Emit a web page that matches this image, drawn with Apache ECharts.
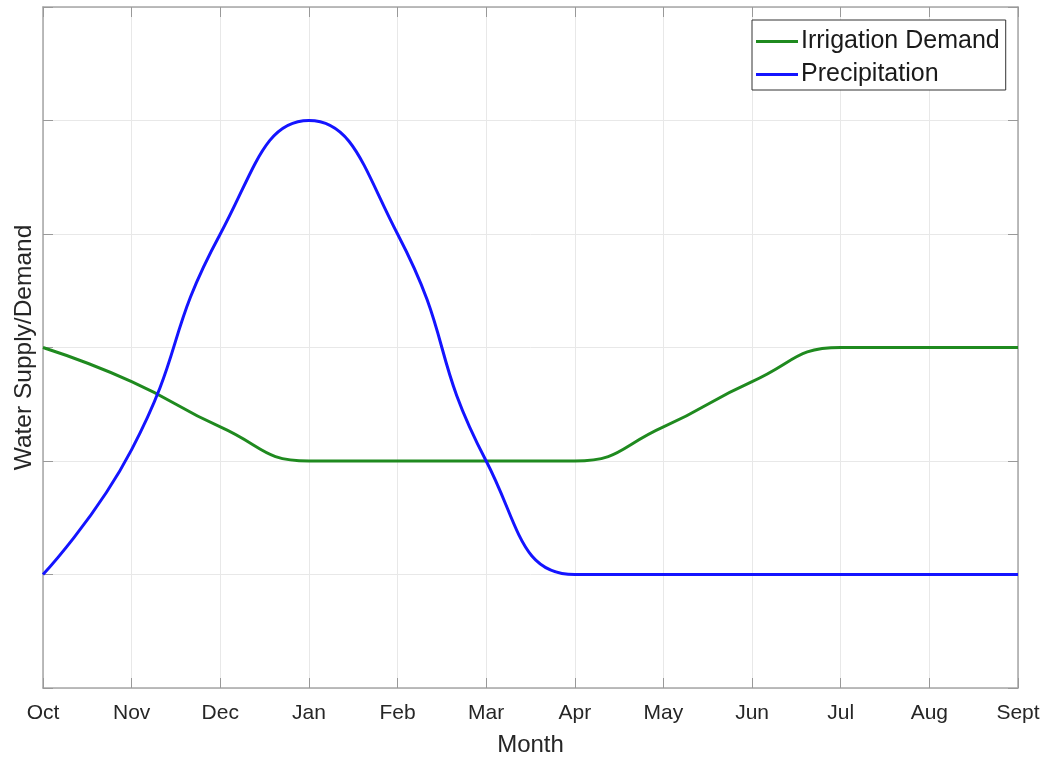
<!DOCTYPE html>
<html><head><meta charset="utf-8">
<script src="https://cdn.jsdelivr.net/npm/echarts@6/dist/echarts.min.js"></script>
<style>html,body{margin:0;padding:0;background:#fff}#c{width:1044px;height:757px}</style>
</head><body><div id="c"></div>
<script>
const months = ['Oct','Nov','Dec','Jan','Feb','Mar','Apr','May','Jun','Jul','Aug','Sept'];
const irrigationDemand = [3, 2.7, 2.3, 2, 2, 2, 2, 2.3, 2.7, 3, 3, 3];
const precipitation = [1, 2.1, 4, 5, 4, 2, 1, 1, 1, 1, 1, 1];
const yTicks = [0, 1, 2, 3, 4, 5, 6];

const font = 'Liberation Sans, Arial, Helvetica, sans-serif';
const frame = '#a6a6a6';
const chart = echarts.init(document.getElementById('c'));
const axisBase = () => ({
  axisLine: {show: true, onZero: false, lineStyle: {color: frame, width: 1.5}},
  axisTick: {show: true, inside: true, length: 10, lineStyle: {color: '#999', width: 1}},
});
chart.setOption({
  animation: false,
  backgroundColor: '#fff',
  grid: {left: 43, right: 26, top: 7, bottom: 69, show: false, containLabel: false, outerBoundsMode: 'none'},
  legend: {
    orient: 'vertical', left: 752, top: 20, itemWidth: 42, itemHeight: 3, itemGap: 8,
    icon: 'rect',
    backgroundColor: '#fff', borderColor: '#333', borderWidth: 1,
    padding: [9, 6, 3, 4],
    textStyle: {fontFamily: font, fontSize: 25, color: '#1a1a1a', padding: [0, 0, 0, -2]},
    data: ['Irrigation Demand', 'Precipitation']
  },
  xAxis: [
    Object.assign({type: 'category', data: months, boundaryGap: false, position: 'bottom',
      name: 'Month', nameLocation: 'middle', nameGap: 45,
      nameTextStyle: {fontFamily: font, fontSize: 24, color: '#262626'},
      axisLabel: {fontFamily: font, fontSize: 21, color: '#262626', margin: 15},
      splitLine: {show: true, lineStyle: {color: '#e8e8e8', width: 1}}}, axisBase()),
    Object.assign({type: 'category', data: months, boundaryGap: false, position: 'top',
      axisLabel: {show: false}, splitLine: {show: false}}, axisBase())
  ],
  yAxis: [
    Object.assign({type: 'value', min: yTicks[0], max: yTicks[yTicks.length-1], interval: 1, position: 'left',
      name: 'Water Supply/Demand', nameLocation: 'middle', nameGap: 6,
      nameTextStyle: {fontFamily: font, fontSize: 24.5, color: '#262626'},
      axisLabel: {show: false},
      splitLine: {show: true, lineStyle: {color: '#e8e8e8', width: 1}}}, axisBase()),
    Object.assign({type: 'value', min: yTicks[0], max: yTicks[yTicks.length-1], interval: 1, position: 'right',
      axisLabel: {show: false}, splitLine: {show: false}}, axisBase())
  ],
  series: [
    {name: 'Irrigation Demand', type: 'line', data: irrigationDemand, smooth: 0.5,
     symbol: 'none', lineStyle: {color: '#1f8a1f', width: 3}, itemStyle: {color: '#1f8a1f'}},
    {name: 'Precipitation', type: 'line', data: precipitation, smooth: 0.5,
     symbol: 'none', lineStyle: {color: '#1414ff', width: 3}, itemStyle: {color: '#1414ff'}}
  ]
});
</script></body></html>
